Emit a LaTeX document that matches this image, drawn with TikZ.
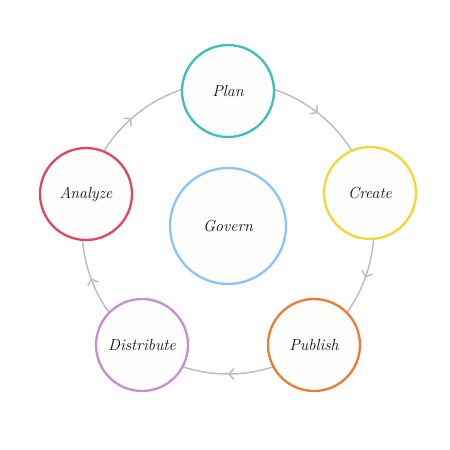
\documentclass[tikz,border=0pt]{standalone}
\usetikzlibrary{arrows.meta,decorations.markings}
\definecolor{ringgray}{HTML}{BEBEBE}
\definecolor{cplan}{HTML}{3EBFBE}
\definecolor{ccreate}{HTML}{F6D635}
\definecolor{cpublish}{HTML}{EE7B33}
\definecolor{cdistribute}{HTML}{C88ED2}
\definecolor{canalyze}{HTML}{E2475E}
\definecolor{cgovern}{HTML}{8CC3F8}
\definecolor{nodefill}{HTML}{FDFDFB}
\definecolor{txt}{HTML}{111111}
\tikzset{
  stagebox/.style={circle, draw=#1, line width=2.3pt, fill=nodefill, minimum size=92pt, inner sep=0pt,
    text=txt, font=\fontsize{16}{18}\selectfont\itshape},
  ringarc/.style={draw=ringgray, line width=1.5pt,
    postaction={decorate},
    decoration={markings, mark=at position 0.5 with {\arrow{Straight Barb[length=5pt,width=11pt,line width=1.5pt]}}}}
}
\newcommand{\ringR}{146}
\begin{document}
\begin{tikzpicture}[x=1pt,y=-1pt]
\useasboundingbox (0,0) rectangle (450,450);
\fill[white] (0,0) rectangle (450,450);
\coordinate (C) at (228,228);
% ring (drawn first, behind the stage circles)
\foreach \a/\b in {-90/-13.8, -13.8/53.7, 53.7/126.3, 126.3/193.5, 193.5/264} {
  \path[ringarc] ([shift={(\a:\ringR)}]C) arc[start angle=\a, end angle=\b, radius=\ringR];
}
\node[stagebox=cplan] (plan) at (228,91) {Plan};
\node[stagebox=ccreate] (create) at (370,193) {Create};
\node[stagebox=cpublish] (publish) at (314,345) {Publish};
\node[stagebox=cdistribute] (distribute) at (142,345) {Distribute};
\node[stagebox=canalyze] (analyze) at (86,194) {Analyze};
\node[stagebox=cgovern, minimum size=116pt] (govern) at (228,226) {Govern};
\end{tikzpicture}
\end{document}
